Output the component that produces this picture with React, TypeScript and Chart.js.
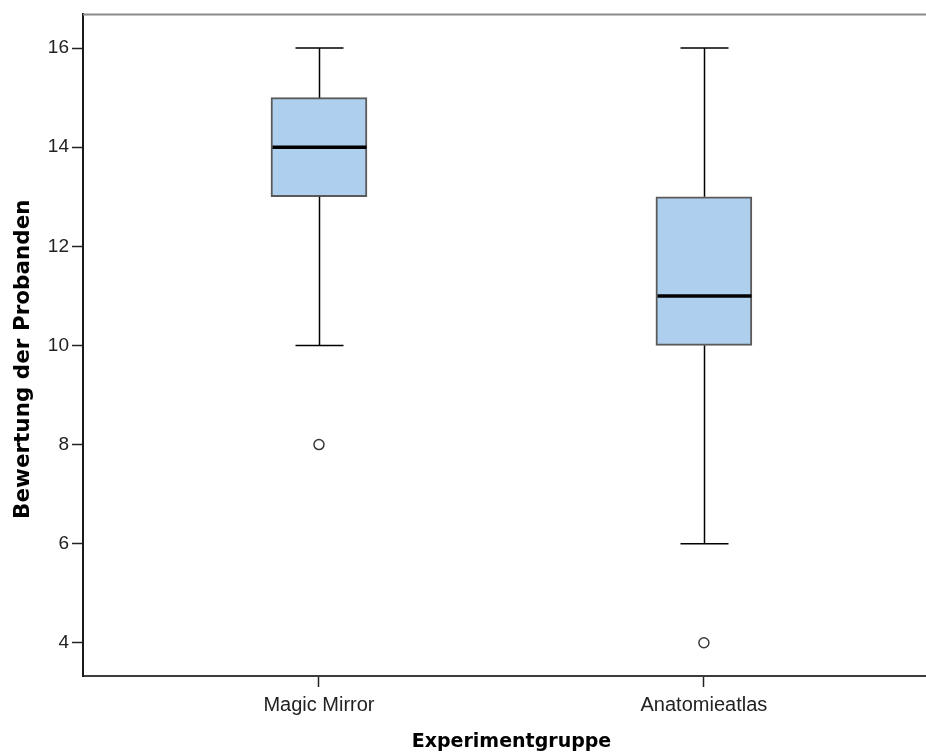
import React, { useEffect, useRef } from "react";
import { Chart, registerables } from "chart.js";

Chart.register(...registerables);

// ---- data ----
const groups = ["Magic Mirror", "Anatomieatlas"];
const groupPos = [1, 2];
const whiskerLow = [10, 6];
const q1 = [13, 10];
const median = [14, 11];
const q3 = [15, 13];
const whiskerHigh = [16, 16];
const outliers = [8, 4];
const yTicks = [4, 6, 8, 10, 12, 14, 16];

const xTitle = "Experimentgruppe";
const yTitle = "Bewertung der Probanden";

const boxPartsPlugin = {
  id: "boxParts",
  afterDatasetsDraw(chart: any) {
    const { ctx, chartArea, scales } = chart;
    const x = scales.x;
    const y = scales.y;
    ctx.save();
    // frame top line
    ctx.strokeStyle = "#8a8a8a";
    ctx.lineWidth = 2;
    ctx.beginPath();
    ctx.moveTo(chartArea.left, chartArea.top);
    ctx.lineTo(chartArea.right, chartArea.top);
    ctx.stroke();

    const boxHalf = 48;
    const capHalf = 24;
    groupPos.forEach((g, i) => {
      const cx = Math.round(x.getPixelForValue(g)) + 0.5;
      ctx.strokeStyle = "#000";
      ctx.lineWidth = 1.5;
      ctx.beginPath();
      ctx.moveTo(cx, y.getPixelForValue(q3[i]));
      ctx.lineTo(cx, y.getPixelForValue(whiskerHigh[i]));
      ctx.moveTo(cx, y.getPixelForValue(q1[i]));
      ctx.lineTo(cx, y.getPixelForValue(whiskerLow[i]));
      ctx.moveTo(cx - capHalf, y.getPixelForValue(whiskerHigh[i]));
      ctx.lineTo(cx + capHalf, y.getPixelForValue(whiskerHigh[i]));
      ctx.moveTo(cx - capHalf, y.getPixelForValue(whiskerLow[i]));
      ctx.lineTo(cx + capHalf, y.getPixelForValue(whiskerLow[i]));
      ctx.stroke();

      ctx.lineWidth = 3.5;
      ctx.beginPath();
      ctx.moveTo(cx - boxHalf + 1, y.getPixelForValue(median[i]));
      ctx.lineTo(cx + boxHalf - 1, y.getPixelForValue(median[i]));
      ctx.stroke();
    });

    // axis titles
    ctx.fillStyle = "#000";
    ctx.textAlign = "center";
    ctx.textBaseline = "middle";
    ctx.font = "bold 19px 'DejaVu Sans', sans-serif";
    ctx.fillText(xTitle, (chartArea.left + chartArea.right) / 2 + 7, chart.height - 10);

    ctx.translate(23, (chartArea.top + chartArea.bottom) / 2 + 14);
    ctx.rotate(-Math.PI / 2);
    ctx.font = "bold 21.5px 'DejaVu Sans', sans-serif";
    ctx.fillText(yTitle, 0, 0);
    ctx.restore();
  },
};

export default function App() {
  const canvasRef = useRef<HTMLCanvasElement | null>(null);

  useEffect(() => {
    if (!canvasRef.current) return;
    const chart = new Chart(canvasRef.current, {
      type: "bar",
      data: {
        datasets: [
          {
            type: "bar",
            data: groupPos.map((g, i) => ({ x: g, y: [q1[i], q3[i]] })) as any,
            backgroundColor: "#aed0ee",
            borderColor: "#5a5a5a",
            borderWidth: 2,
            borderSkipped: false,
            barThickness: 96,
            order: 2,
          } as any,
          {
            type: "scatter",
            data: groupPos.map((g, i) => ({ x: g, y: outliers[i] })),
            pointStyle: "circle",
            pointRadius: 5,
            pointBorderWidth: 1.5,
            pointBackgroundColor: "#ffffff",
            pointBorderColor: "#3a3a3a",
            order: 1,
          } as any,
        ],
      },
      options: {
        animation: false,
        responsive: false,
        maintainAspectRatio: false,
        devicePixelRatio: 1,
        layout: { autoPadding: false, padding: { top: 10, left: 0, right: 0, bottom: 0 } },
        plugins: {
          legend: { display: false },
          tooltip: { enabled: false },
        },
        scales: {
          x: {
            type: "linear",
            offset: false,
            min: 0.387,
            max: 2.577,
            afterBuildTicks: (s: any) => {
              s.ticks = groupPos.map((v) => ({ value: v }));
            },
            afterFit: (s: any) => {
              s.height = 76;
              s.paddingLeft = 0;
              s.paddingRight = 0;
            },
            ticks: {
              autoSkip: false,
              maxRotation: 0,
              padding: 6,
              color: "#222",
              font: { family: "'Liberation Sans', Arial, sans-serif", size: 20 },
              callback: (v: any) => {
                const idx = groupPos.indexOf(Number(v));
                return idx >= 0 ? groups[idx] : "";
              },
            },
            grid: {
              offset: false,
              drawOnChartArea: false,
              drawTicks: true,
              tickLength: 11,
              tickColor: "#222",
              tickWidth: 1.5,
            },
            border: { display: true, color: "#3c3c3c", width: 2 },
            title: { display: false, text: xTitle },
          },
          y: {
            type: "linear",
            min: 3.33,
            max: 16.68,
            afterBuildTicks: (s: any) => {
              s.ticks = yTicks.map((v) => ({ value: v }));
            },
            afterFit: (s: any) => {
              s.width = 83;
            },
            ticks: {
              padding: 3,
              color: "#222",
              font: { family: "'Liberation Sans', Arial, sans-serif", size: 19 },
            },
            grid: {
              drawOnChartArea: false,
              drawTicks: true,
              tickLength: 11,
              tickColor: "#222",
              tickWidth: 1.5,
            },
            border: { display: true, color: "#1a1a1a", width: 2 },
            title: { display: false, text: yTitle },
          },
        },
      },
      plugins: [boxPartsPlugin],
    } as any);
    return () => chart.destroy();
  }, []);

  return (
    <div style={{ position: "fixed", left: 0, top: 0, width: 926, height: 752, background: "#fff" }}>
      <canvas ref={canvasRef} width={926} height={752} style={{ display: "block" }} />
    </div>
  );
}
